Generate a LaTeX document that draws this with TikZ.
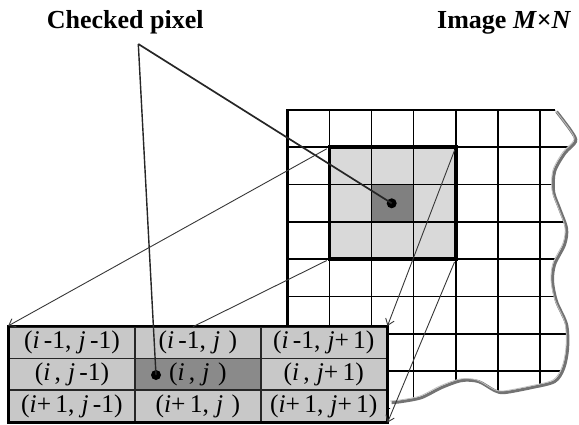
\documentclass[tikz,border=0pt]{standalone}
\usepackage{fontspec}
\setmainfont{Liberation Serif}
\usetikzlibrary{arrows.meta}
\usepackage{xcolor}
\definecolor{cellgray}{RGB}{200,200,200}
\definecolor{celldark}{RGB}{138,138,138}
\definecolor{boxgray}{RGB}{217,217,217}
\definecolor{boxdark}{RGB}{128,128,128}
\definecolor{arrgray}{RGB}{55,55,55}
\newcommand{\pxi}{\textit{i}}
\newcommand{\pxj}{\textit{j}}
\tikzset{
  % Tor chiziqlari
  gridline/.style   = {line width=1.7pt, black},
  gridborder/.style = {line width=2.8pt, black},
  winbox/.style     = {line width=3.8pt, black},
  % Qirqilgan chet
  tornshade/.style  = {line width=3pt, black!55},
  tornedge/.style   = {line width=0.8pt, black!25},
  % Jadval
  cellbox/.style    = {draw=black!85, line width=1.6pt, minimum width=125.9pt,
                       minimum height=31.7pt, inner sep=0pt,
                       font=\fontsize{25.5}{27}\selectfont},
  tableborder/.style= {line width=2.8pt, black},
  % Chiziqlar
  pointer/.style    = {line width=1.7pt, black!85},
  mapline/.style    = {line width=0.9pt, arrgray},
  maparrow/.style   = {mapline, -{Straight Barb[length=6pt,width=9pt]}},
  % Nuqtalar
  dotmark/.style    = {circle, fill=black, inner sep=0pt, minimum size=10pt},
  % Etiketlar
  titlelab/.style   = {anchor=base west, inner sep=0pt,
                       font=\fontsize{26}{28}\selectfont\bfseries},
}
\begin{document}
\begin{tikzpicture}[x=1pt, y=-1pt]
  \useasboundingbox (0,0) rectangle (579,425);
  % Oyna (3x3)
  \fill[boxgray] (329.4,147.3) rectangle (455.7,259.2);
  \fill[boxdark] (371.5,184.6) rectangle (413.6,221.9);
  % Tasvir to'ri
  \begin{scope}
    \clip (287.3,110) -- (555,110) -- plot[smooth] coordinates {
      (555,110) (570,130) (574,140) (563,152) (553,170) (552,190) (558,207)
      (565,227) (563,243) (553,263) (551,280) (555,300) (565,323) (566,347)
      (562,367) (553,380) (530,386) (503,391) (493,389) (477,380) (460,379)
      (440,386) (420,396) (400,400) (390,401)} -- (390,421.7) -- (287.3,421.7) -- cycle;
    \foreach \k in {1,...,6}
      \draw[gridline] ({287.3+42.1*\k},110) -- ++(0,320);
    \foreach \k in {1,...,8}
      \draw[gridline] (287.3,{110+37.3*\k}) -- ++(300,0);
  \end{scope}
  % Qirqilgan chet
  \draw[tornshade, shift={(1.6,1.6)}] plot[smooth] coordinates {
      (555,110) (570,130) (574,140) (563,152) (553,170) (552,190) (558,207)
      (565,227) (563,243) (553,263) (551,280) (555,300) (565,323) (566,347)
      (562,367) (553,380) (530,386) (503,391) (493,389) (477,380) (460,379)
      (440,386) (420,396) (400,400) (390,401)};
  \draw[tornedge] plot[smooth] coordinates {
      (555,110) (570,130) (574,140) (563,152) (553,170) (552,190) (558,207)
      (565,227) (563,243) (553,263) (551,280) (555,300) (565,323) (566,347)
      (562,367) (553,380) (530,386) (503,391) (493,389) (477,380) (460,379)
      (440,386) (420,396) (400,400) (390,401)};
  \draw[gridborder] (287.3,326.7) -- (287.3,110) -- (555,110);
  % Oyna chegarasi
  \coordinate (w-nw) at (329.4,147.3);
  \coordinate (w-ne) at (455.7,147.3);
  \coordinate (w-sw) at (329.4,259.2);
  \coordinate (w-se) at (455.7,259.2);
  \draw[winbox] (w-nw) rectangle (w-se);
  % Jadval
  \foreach \r/\c/\fc/\txt in {
      1/1/cellgray/{(\pxi\,-1,\;\pxj\,-1)},
      1/2/cellgray/{(\pxi\,-1,\;\pxj\,\,)},
      1/3/cellgray/{(\pxi\,-1,\;\pxj+\,1)},
      2/1/cellgray/{(\pxi\,,\;\pxj\,-1)},
      2/2/celldark/{(\pxi\,,\;\pxj\,\,)},
      2/3/cellgray/{(\pxi\,,\;\pxj+\,1)},
      3/1/cellgray/{(\pxi+\,1,\;\pxj\,-1)},
      3/2/cellgray/{(\pxi+\,1,\;\pxj\,\,)},
      3/3/cellgray/{(\pxi+\,1,\;\pxj+\,1)}}
    \node[cellbox, fill=\fc] (t-\r-\c) at ({9+125.9*(\c-0.5)},{326.7+31.7*(\r-0.5)}) {\txt};
  \draw[tableborder] (t-1-1.north west) rectangle (t-3-3.south east);
  % Nuqtalar
  \node[dotmark] (gdot) at (391.7,203.3) {};
  \node[dotmark] (tdot) at (156,375) {};
  % Etiketlar
  \node[titlelab] (chk) at (46.7,28.3) {Checked pixel};
  \node[titlelab] (img) at (437,28.3) {Image \textit{M}×\textit{N}};
  \coordinate (tip) at (138.3,44);
  \coordinate (tfree) at (193,326.7);
  % Ko'rsatkichlar
  \draw[pointer] (tip) -- (gdot.center);
  \draw[pointer, line width=1.4pt] (tip) -- (tdot.center);
  % Strelkalar
  \draw[maparrow, shorten <=3pt] (w-nw) -- (t-1-1.north west);
  \draw[mapline, shorten <=3pt] (w-sw) -- (tfree);
  \draw[maparrow, shorten <=3pt] (w-ne) -- (t-1-3.north east);
  \draw[maparrow, shorten <=3pt] (w-se) -- (t-3-3.south east);
\end{tikzpicture}
\end{document}
